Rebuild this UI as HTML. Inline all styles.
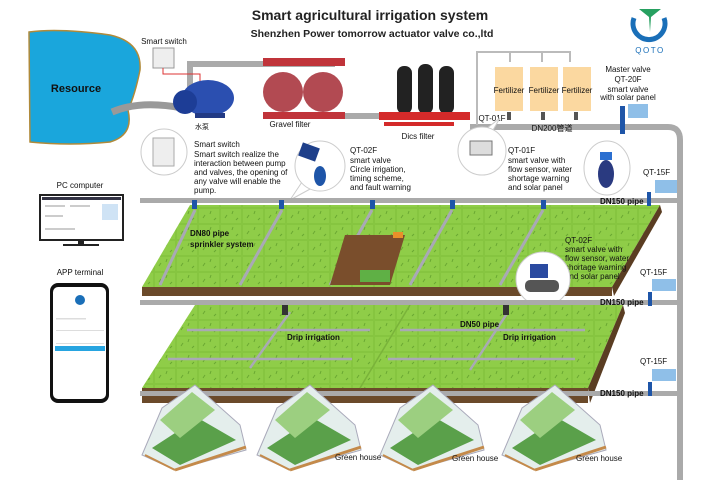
<!DOCTYPE html>
<html><head><meta charset="utf-8"><style>
html,body{margin:0;padding:0;background:#fff;}
svg{display:block;font-family:"Liberation Sans","Noto Sans CJK SC",sans-serif;}
.t{font-size:8px;fill:#111;}
.b{font-weight:bold;}
</style></head><body>
<svg width="720" height="480" viewBox="0 0 720 480" xmlns="http://www.w3.org/2000/svg">
<defs>
<pattern id="grass" width="22" height="16" patternUnits="userSpaceOnUse">
<rect width="22" height="16" fill="#86c540"/>
<rect x="1" y="1" width="20" height="14" fill="#8fcd48"/>
<path d="M5 10 l2 -3 M12 6 l1 -3 M16 12 l2 -2" stroke="#6aa832" stroke-width="1"/>
</pattern>
</defs>
<text x="370" y="20" text-anchor="middle" class="b" font-size="14" fill="#222">Smart agricultural irrigation system</text>
<text x="372" y="37" text-anchor="middle" class="b" font-size="10.5" fill="#222">Shenzhen Power tomorrow actuator valve co.,ltd</text>
<!-- logo -->
<path d="M634 18 A16 16 0 1 0 664 18" fill="none" stroke="#1a6fb8" stroke-width="5"/>
<path d="M639 9 L661 9 L651 17 L650 32 L649 17 Z" fill="#27a060"/>
<text x="650" y="53" text-anchor="middle" font-size="8" fill="#1a6fb8" letter-spacing="1.5">QOTO</text>
<!-- lake -->
<path d="M29 32 Q60 28 110 35 Q142 42 140 70 Q135 95 128 110 Q134 135 110 142 Q70 146 30 142 Z" fill="#1aa6dc" stroke="#b08a3a" stroke-width="1.5"/>
<text x="76" y="92" text-anchor="middle" class="b" font-size="11" fill="#111">Resource</text>
<path d="M112 112 Q140 100 182 108" fill="none" stroke="#999" stroke-width="7"/>
<path d="M190 92 L190 64 L335 64" fill="none" stroke="#aaa" stroke-width="6"/>
<path d="M344 116 L382 116" stroke="#aaa" stroke-width="6"/>
<path d="M470 127 L668 127 Q680 127 680 140 L680 480" fill="none" stroke="#aaa" stroke-width="6"/>
<path d="M477 125 L477 52 L570 52 L570 62 M510 52 L510 62 M542 52 L542 62" fill="none" stroke="#bbb" stroke-width="2"/>
<text x="164" y="44" text-anchor="middle" class="t">Smart switch</text>
<rect x="153" y="48" width="21" height="20" fill="#eee" stroke="#999"/>
<path d="M163 68 L163 74 L200 74 L200 84" fill="none" stroke="#d33" stroke-width="1"/>
<ellipse cx="208" cy="98" rx="26" ry="18" fill="#2b4fb0"/>
<circle cx="185" cy="102" r="12" fill="#1d3d96"/>
<rect x="195" y="113" width="30" height="5" fill="#223a85"/>
<text x="202" y="129" text-anchor="middle" font-size="7" fill="#111">水泵</text>
<rect x="263" y="58" width="82" height="8" fill="#c0343a"/>
<circle cx="283" cy="92" r="20" fill="#b24a52"/>
<circle cx="323" cy="92" r="20" fill="#b24a52"/>
<rect x="263" y="112" width="82" height="7" fill="#c0343a"/>
<text x="290" y="127" text-anchor="middle" class="t">Gravel filter</text>
<rect x="397" y="66" width="15" height="48" rx="7" fill="#222"/>
<rect x="418" y="64" width="15" height="50" rx="7" fill="#222"/>
<rect x="439" y="66" width="15" height="48" rx="7" fill="#222"/>
<rect x="379" y="112" width="91" height="8" fill="#d42a2a"/>
<rect x="384" y="122" width="70" height="4" fill="#d42a2a"/>
<text x="418" y="139" text-anchor="middle" class="t">Dics filter</text>
<g fill="#fbd8a0">
<rect x="495" y="67" width="28" height="44"/><rect x="530" y="67" width="28" height="44"/><rect x="563" y="67" width="28" height="44"/>
</g>
<text x="509" y="93" text-anchor="middle" class="t">Fertilizer</text>
<text x="544" y="93" text-anchor="middle" class="t">Fertilizer</text>
<text x="577" y="93" text-anchor="middle" class="t">Fertilizer</text>
<g fill="#555"><rect x="507" y="112" width="4" height="8"/><rect x="541" y="112" width="4" height="8"/><rect x="574" y="112" width="4" height="8"/></g>
<text x="492" y="121" text-anchor="middle" class="t">QT-01F</text>
<text x="552" y="131" text-anchor="middle" class="t">DN200管道</text>
<text x="628" y="72" text-anchor="middle" class="t">Master valve</text>
<text x="628" y="82" text-anchor="middle" class="t">QT-20F</text>
<text x="628" y="92" text-anchor="middle" class="t">smart valve</text>
<text x="628" y="100" text-anchor="middle" class="t">with solar panel</text>
<rect x="628" y="104" width="20" height="14" fill="#8fbfe8"/>
<rect x="620" y="106" width="5" height="28" fill="#1e55a8"/>
<circle cx="164" cy="152" r="23" fill="#fff" stroke="#ccc"/>
<rect x="153" y="138" width="21" height="28" fill="#eee" stroke="#aaa"/>
<text class="t" x="194" y="147">Smart switch</text>
<text class="t" x="194" y="157">Smart switch realize the</text>
<text class="t" x="194" y="166">interaction between pump</text>
<text class="t" x="194" y="175">and valves, the opening of</text>
<text class="t" x="194" y="184">any valve will enable the</text>
<text class="t" x="194" y="193">pump.</text>
<path d="M302 182 L290 200 L312 188" fill="#fff" stroke="#ccc"/>
<circle cx="320" cy="166" r="25" fill="#fff" stroke="#ccc"/>
<rect x="300" y="145" width="18" height="14" fill="#1e3f8a" transform="rotate(20 309 152)"/>
<ellipse cx="320" cy="176" rx="6" ry="10" fill="#1e55a8"/>
<text class="t" x="350" y="153">QT-02F</text>
<text class="t" x="350" y="163">smart valve</text>
<text class="t" x="350" y="172">Circle irrigation,</text>
<text class="t" x="350" y="181">timing scheme,</text>
<text class="t" x="350" y="190">and fault warning</text>
<path d="M493 130 L500 118 L486 129" fill="#fff" stroke="#ccc"/>
<circle cx="482" cy="151" r="24" fill="#fff" stroke="#ccc"/>
<rect x="470" y="141" width="22" height="14" fill="#ddd" stroke="#777"/>
<text class="t" x="508" y="153">QT-01F</text>
<text class="t" x="508" y="163">smart valve with</text>
<text class="t" x="508" y="172">flow sensor, water</text>
<text class="t" x="508" y="181">shortage warning</text>
<text class="t" x="508" y="190">and solar panel</text>
<ellipse cx="607" cy="168" rx="23" ry="27" fill="#fff" stroke="#ccc"/>
<ellipse cx="606" cy="174" rx="8" ry="14" fill="#2a3a80"/>
<rect x="600" y="152" width="12" height="8" fill="#2b6fd0"/>
<text class="t" x="643" y="175">QT-15F</text>
<rect x="655" y="180" width="22" height="13" fill="#8fbfe8"/>
<polygon points="142,287 190,205 660,205 612,287" fill="url(#grass)"/>
<polygon points="142,287 612,287 612,296 142,296" fill="#6b4a2a"/>
<polygon points="612,287 660,205 662,212 614,296" fill="#5a3d22"/>
<g stroke="#a9a9b5" stroke-width="3">
<line x1="195" y1="210" x2="160" y2="285"/><line x1="282" y1="210" x2="240" y2="285"/><line x1="372" y1="210" x2="330" y2="285"/><line x1="452" y1="210" x2="410" y2="285"/><line x1="543" y1="210" x2="500" y2="285"/>
</g>
<polygon points="345,235 405,235 390,285 330,285" fill="#7a4e2c"/>
<rect x="360" y="270" width="30" height="12" fill="#5fb045"/>
<rect x="393" y="232" width="10" height="6" fill="#e8902a"/>
<text class="t b" x="190" y="236">DN80 pipe</text>
<text class="t b" x="190" y="247">sprinkler system</text>
<text class="t" x="565" y="243">QT-02F</text>
<text class="t" x="565" y="252">smart valve with</text>
<text class="t" x="565" y="261">flow sensor, water</text>
<text class="t" x="565" y="270">shortage warning</text>
<text class="t" x="565" y="279">and solar panel</text>
<circle cx="543" cy="279" r="27" fill="#fff" stroke="#ccc"/>
<rect x="530" y="264" width="18" height="14" fill="#2a4aa0"/>
<rect x="525" y="280" width="34" height="12" rx="5" fill="#555"/>
<text class="t" x="640" y="275">QT-15F</text>
<rect x="652" y="279" width="24" height="12" fill="#8fbfe8"/>
<rect x="140" y="198" width="540" height="5" fill="#aaa"/>
<g fill="#1e55a8"><rect x="192" y="200" width="5" height="9"/><rect x="279" y="200" width="5" height="9"/><rect x="370" y="200" width="5" height="9"/><rect x="450" y="200" width="5" height="9"/><rect x="541" y="200" width="5" height="9"/><rect x="647" y="192" width="4" height="14"/></g>
<text class="t b" x="600" y="204">DN150 pipe</text>
<polygon points="142,388 195,305 623,305 588,388" fill="url(#grass)"/>
<polygon points="142,388 588,388 588,403 142,403" fill="#6b4a2a"/>
<polygon points="588,388 623,305 625,313 590,403" fill="#5a3d22"/>
<line x1="410" y1="305" x2="360" y2="388" stroke="#7ab33a" stroke-width="1.5"/>
<g stroke="#a9a9b5" stroke-width="2.5">
<line x1="187" y1="330" x2="370" y2="330"/><line x1="168" y1="359" x2="352" y2="359"/>
<line x1="400" y1="330" x2="585" y2="330"/><line x1="388" y1="359" x2="575" y2="359"/>
<line x1="290" y1="312" x2="250" y2="368"/><line x1="508" y1="312" x2="470" y2="370"/>
</g>
<rect x="282" y="305" width="6" height="10" fill="#333"/><rect x="503" y="305" width="6" height="10" fill="#333"/>
<text class="t b" x="460" y="327">DN50 pipe</text>
<text class="t b" x="287" y="340">Drip irrigation</text>
<text class="t b" x="503" y="340">Drip irrigation</text>
<rect x="140" y="300" width="540" height="5" fill="#aaa"/>
<rect x="648" y="292" width="4" height="14" fill="#1e55a8"/>
<text class="t b" x="600" y="305">DN150 pipe</text>
<text class="t" x="640" y="364">QT-15F</text>
<rect x="652" y="369" width="24" height="12" fill="#8fbfe8"/>
<rect x="140" y="391" width="540" height="5" fill="#aaa"/>
<rect x="648" y="382" width="4" height="14" fill="#1e55a8"/>
<text class="t b" x="600" y="396">DN150 pipe</text>
<g id="gh">
<polygon points="142,455 162,408 195,385 240,425 246,450 175,470" fill="#e4eeec" stroke="#aab" stroke-width="1"/>
<polygon points="152,448 198,418 236,440 180,465" fill="#5aa04a"/>
<polygon points="160,420 192,392 215,410 180,438" fill="#9ccf80"/>
<line x1="175" y1="470" x2="246" y2="447" stroke="#c48a4a" stroke-width="3"/>
<line x1="145" y1="455" x2="175" y2="470" stroke="#c48a4a" stroke-width="2"/>
</g>
<use href="#gh" x="115"/><use href="#gh" x="238"/><use href="#gh" x="360"/>
<text class="t" x="335" y="460">Green house</text>
<text class="t" x="452" y="461">Green house</text>
<text class="t" x="576" y="461">Green house</text>
<text x="80" y="188" text-anchor="middle" class="t">PC computer</text>
<rect x="40" y="195" width="83" height="45" fill="#fff" stroke="#222" stroke-width="2"/>
<rect x="42" y="197" width="79" height="3" fill="#334"/>
<rect x="102" y="204" width="16" height="16" fill="#cfe3f5"/>
<g fill="#ccc"><rect x="45" y="205" width="20" height="2"/><rect x="70" y="205" width="20" height="2"/><rect x="45" y="215" width="18" height="2"/><rect x="45" y="228" width="30" height="2"/></g>
<rect x="78" y="240" width="6" height="5" fill="#222"/><rect x="63" y="244" width="36" height="2" fill="#222"/>
<text x="80" y="275" text-anchor="middle" class="t">APP terminal</text>
<rect x="50" y="283" width="59" height="120" rx="8" fill="#111"/>
<rect x="53" y="287" width="53" height="112" rx="5" fill="#fff"/>
<circle cx="80" cy="300" r="5" fill="#1a6fb8"/>
<g fill="#ddd"><rect x="56" y="318" width="30" height="1.5"/><rect x="56" y="330" width="48" height="1"/><rect x="56" y="343" width="48" height="1"/></g>
<rect x="55" y="346" width="50" height="5" fill="#27a4e0"/>
</svg>
</body></html>
